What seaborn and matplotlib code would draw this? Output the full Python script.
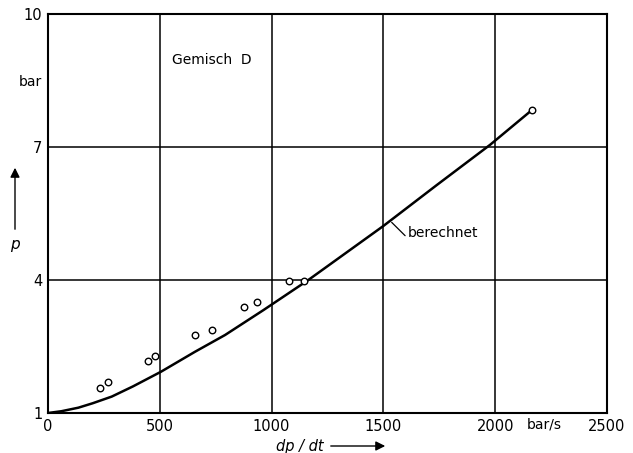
import numpy as np
import pandas as pd
import seaborn as sns
import matplotlib.pyplot as plt

# Messpunkte (dp/dt in bar/s, p in bar)
mess_dpdt = [231, 268, 447, 477, 657, 733, 878, 936, 1076, 1145, 2163]
mess_p = [1.57, 1.70, 2.17, 2.29, 2.77, 2.88, 3.38, 3.50, 3.97, 3.98, 7.83]

# berechnete Kurve
calc_dpdt = [0, 60, 136, 200, 285, 380, 505, 657, 792, 963, 1164, 1500, 1738, 1977, 2163]
calc_p = [1.0, 1.04, 1.12, 1.22, 1.37, 1.60, 1.93, 2.38, 2.76, 3.32, 4.0, 5.22, 6.14, 7.05, 7.83]

x_ticks = [0, 500, 1000, 1500, 2000, 2500]
y_ticks = [1, 4, 7, 10]

df_mess = pd.DataFrame({"dpdt": mess_dpdt, "p": mess_p})
df_calc = pd.DataFrame({"dpdt": calc_dpdt, "p": calc_p})

sns.set_style("white")
plt.rcParams['font.family'] = ['DejaVu Sans']
plt.rcParams['text.color'] = 'black'
plt.rcParams['xtick.color'] = 'black'
plt.rcParams['ytick.color'] = 'black'

fig = plt.figure(figsize=(6.33, 4.53), dpi=100)
ax = fig.add_axes([0.0758, 0.0883, 0.8832, 0.8807])

# Gitter
for gx in [500, 1000, 1500, 2000]:
    ax.axvline(gx, color='black', lw=1.1, zorder=1)
for gy in [4, 7]:
    ax.axhline(gy, color='black', lw=1.1, zorder=1)

sns.lineplot(data=df_calc, x="dpdt", y="p", ax=ax, color='black', lw=1.8, zorder=3)
sns.scatterplot(data=df_mess, x="dpdt", y="p", ax=ax, marker='o', s=22,
                facecolor='white', edgecolor='black', linewidth=1.0, zorder=4)

ax.set_xlim(0, 2500)
ax.set_ylim(1, 10)
ax.set_xticks(x_ticks)
ax.set_yticks(y_ticks)
ax.set_xticklabels([str(t) for t in x_ticks], fontsize=10.5)
ax.set_yticklabels([str(t) for t in y_ticks], fontsize=10.5)
ax.tick_params(length=0, pad=4)
ax.set_xlabel("")
ax.set_ylabel("")
for s in ax.spines.values():
    s.set_color('black')
    s.set_linewidth(1.5)

# Beschriftungen
ax.text(555, 8.96, "Gemisch  D", fontsize=10, va='center', ha='left')
ax.text(1610, 5.05, "berechnet", fontsize=10, va='center', ha='left')
ax.plot([1537, 1597], [5.3, 5.0], color='black', lw=0.9)
fig.text(30 / 633, 1 - 82 / 453, "bar", fontsize=10, ha='center', va='center')
fig.text(544 / 633, 1 - 424 / 453, "bar/s", fontsize=10, ha='center', va='center')
fig.text(300 / 633, 1 - 446 / 453, "dp / dt", fontsize=10.5, style='italic',
         ha='center', va='center')
fig.text(15 / 633, 1 - 245 / 453, "p", fontsize=11, style='italic',
         ha='center', va='center')

# Pfeile
ax.annotate("", xy=(388 / 633, 1 - 446 / 453), xytext=(328 / 633, 1 - 446 / 453),
            xycoords='figure fraction', textcoords='figure fraction',
            arrowprops=dict(arrowstyle='-|>', color='black', lw=1.0,
                            mutation_scale=14))
ax.annotate("", xy=(15 / 633, 1 - 165 / 453), xytext=(15 / 633, 1 - 232 / 453),
            xycoords='figure fraction', textcoords='figure fraction',
            arrowprops=dict(arrowstyle='-|>', color='black', lw=1.0,
                            mutation_scale=14))

fig.savefig("out.png", dpi=100)
